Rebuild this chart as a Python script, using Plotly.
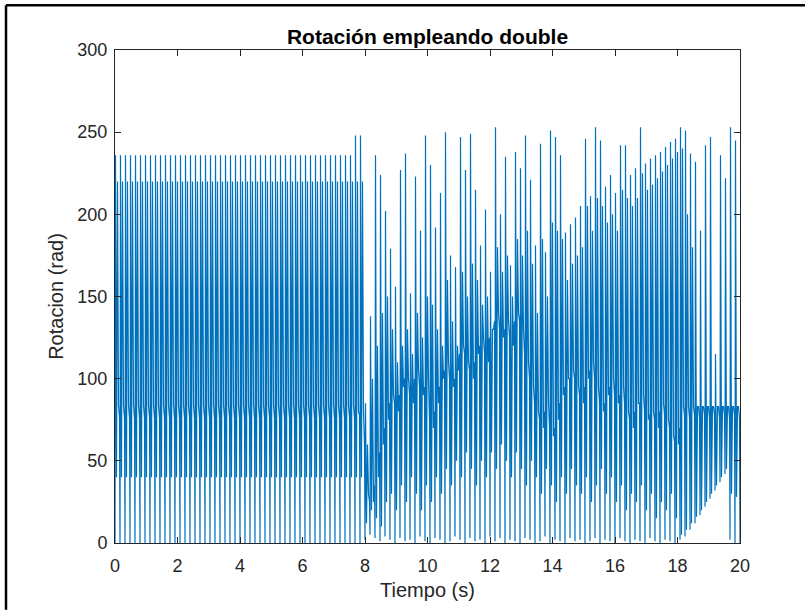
import numpy as np
import plotly.graph_objects as go

# Sampling of the rotation signal: one vertex group per cycle
PERIOD = 0.16          # s per cycle
N_STEADY = 48          # cycles in the steady regime (0 s .. ~7.7 s)
# position of each vertex inside a cycle (fraction of the period)
VERTEX_PHASE = [0.0, 0.1, 0.3, 0.5, 0.7, 0.9]

# Steady regime: trough, high peak, low trough, second peak, band (start, end)
steady_cycle = [0, 236, 40, 220, 84, 76]

# Disturbed regime (~7.7 s .. 20 s), one entry per cycle
trough = [0, 0, 2, 5, 3, 1, 4, 2, 0, 3, 1, 2, 0, 4, 1, 0, 3, 2, 0, 1,
          4, 2, 0, 3, 1, 2, 0, 4, 1, 3, 0, 2, 1, 0, 3, 2, 0, 1, 4, 0,
          2, 1, 0, 3, 1, 2, 0, 1, 3, 0, 2, 1, 0, 3, 1, 0, 2, 1, 0, 3,
          1, 0, 2, 1, 0, 2, 4, 8, 12, 17, 22, 27, 32, 37, 42, 2, 0]
peak_hi = [248, 248, 85, 138, 236, 224, 202, 179, 156, 227, 237, 152, 223, 190, 248, 230,
           192, 213, 250, 175, 168, 247, 227, 249, 215, 181, 203, 165, 253, 200, 235, 169,
           238, 228, 248, 221, 181, 243, 177, 251, 247, 236, 189, 194, 198, 205, 246, 211,
           253, 245, 217, 224, 213, 242, 242, 224, 228, 253, 231, 234, 236, 238, 241, 244,
           246, 253, 251, 237, 232, 190, 242, 247, 115, 236, 222, 253, 245]
trough2 = [40, 40, 12, 20, 15, 10, 25, 30, 20, 35, 25, 40, 30, 20, 35, 25,
           40, 30, 45, 35, 50, 40, 55, 45, 35, 50, 40, 55, 45, 60, 50, 40,
           55, 45, 35, 50, 40, 30, 45, 35, 25, 40, 30, 45, 35, 30, 40, 25,
           35, 45, 30, 40, 25, 35, 20, 30, 25, 35, 20, 30, 15, 25, 20, 30,
           15, 5, 8, 12, 16, 20, 25, 30, 35, 40, 45, 30, 28]
peak_lo = [220, 220, 60, 100, 120, 140, 150, 130, 110, 120, 130, 115, 140, 125, 150, 145,
           130, 120, 160, 135, 120, 165, 150, 170, 160, 145, 150, 130, 180, 165, 175, 150,
           185, 175, 190, 170, 140, 185, 150, 195, 190, 185, 160, 170, 175, 180, 205, 190,
           210, 205, 195, 200, 190, 215, 210, 205, 210, 225, 215, 218, 222, 226, 230, 234,
           238, 240, 200, 180, 83, 83, 83, 83, 83, 83, 83, 83, 83]
band = [80, 80, 30, 25, 40, 60, 75, 90, 80, 95, 100, 85, 105, 90, 100, 70,
        85, 100, 110, 95, 105, 120, 110, 100, 115, 125, 110, 130, 140, 125, 135, 120,
        140, 130, 110, 95, 80, 70, 85, 65, 75, 90, 100, 105, 95, 85, 100, 110,
        95, 80, 90, 100, 85, 95, 80, 70, 85, 90, 75, 80, 70, 85, 75, 65,
        60, 83, 83, 83, 83, 83, 83, 83, 83, 83, 83, 83, 83]
band_end = [78, 60, 25, 35, 55, 70, 85, 85, 90, 100, 90, 100, 95, 95, 75, 80,
            95, 105, 100, 100, 115, 115, 105, 110, 120, 115, 125, 135, 130, 130, 125, 135,
            135, 115, 100, 85, 75, 80, 70, 70, 85, 95, 100, 100, 90, 95, 105, 100,
            85, 85, 95, 90, 90, 85, 75, 80, 85, 80, 78, 75, 80, 78, 70, 62,
            70, 78, 76, 78, 76, 78, 76, 78, 76, 78, 76, 78, 76]

x_ticks = [0, 2, 4, 6, 8, 10, 12, 14, 16, 18, 20]
y_ticks = [0, 50, 100, 150, 200, 250, 300]

# Assemble the vertex sequence
cycles = [steady_cycle] * N_STEADY + [
    list(v) for v in zip(trough, peak_hi, trough2, peak_lo, band, band_end)
]
values = np.array(cycles, dtype=float).ravel()
n_cycles = len(cycles)
phase = np.asarray(VERTEX_PHASE)
t = (np.arange(n_cycles)[:, None] + phase[None, :]).ravel() * PERIOD
t = t * 20.0 / (n_cycles * PERIOD)   # span the full 0-20 s record
t = np.append(t, 20.0)
values = np.append(values, values[0])

INK = "#262626"
FONT = "Liberation Sans, Arial, sans-serif"

fig = go.Figure(
    go.Scatter(x=t, y=values, mode="lines",
               line=dict(color="#0072BD", width=1.2), hoverinfo="skip")
)

axis_common = dict(
    showline=True, linecolor=INK, linewidth=1, mirror="allticks",
    ticks="inside", ticklen=6, tickcolor=INK, showgrid=False, zeroline=False,
    tickfont=dict(family=FONT, size=18, color=INK),
)

fig.update_layout(
    width=805, height=610,
    margin=dict(l=115, r=65, t=50, b=65),
    paper_bgcolor="white", plot_bgcolor="white",
    showlegend=False,
    title=dict(text="<b>Rotación empleando double</b>",
               font=dict(family=FONT, size=21, color="black"),
               x=0.5, xref="paper", xanchor="center",
               y=1 - 37 / 610, yref="container", yanchor="middle"),
    xaxis=dict(range=[0, 20], tickvals=x_ticks, ticklabelstandoff=6,
               title=dict(text="Tiempo (s)", standoff=8,
                          font=dict(family=FONT, size=20, color=INK)),
               **axis_common),
    yaxis=dict(range=[0, 300], tickvals=y_ticks, ticklabelstandoff=3,
               title=dict(text="Rotacion (rad)", standoff=8,
                          font=dict(family=FONT, size=20, color=INK)),
               **axis_common),
    shapes=[
        dict(type="line", xref="paper", yref="paper",
             x0=(6 - 115) / 625, x1=(805 - 115) / 625,
             y0=(545 - 5) / 495, y1=(545 - 5) / 495,
             line=dict(color="black", width=2.5)),
        dict(type="line", xref="paper", yref="paper",
             x0=(6 - 115) / 625, x1=(6 - 115) / 625,
             y0=(545 - 5) / 495, y1=(545 - 612) / 495,
             line=dict(color="black", width=2.5)),
    ],
)

fig.write_html("out.html")
